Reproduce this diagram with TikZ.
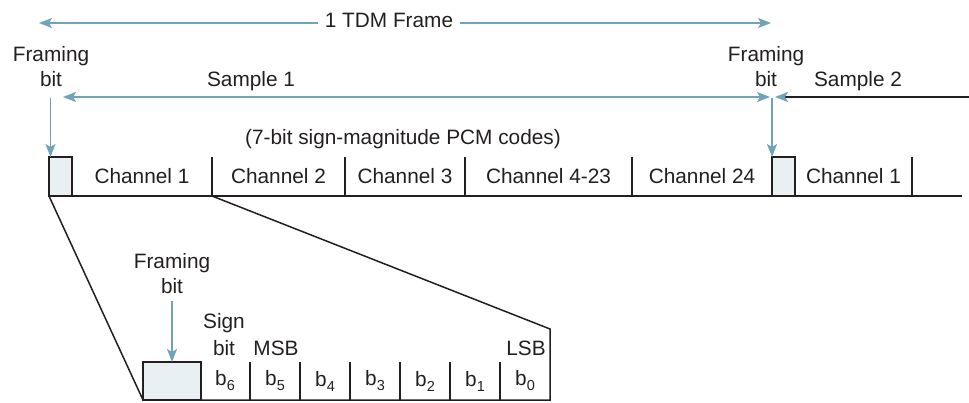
\documentclass[tikz,border=0pt]{standalone}
\usepackage{fontspec}
\setmainfont{Liberation Sans}
\usetikzlibrary{arrows.meta}
\definecolor{arr}{HTML}{6FA3B8}
\definecolor{fbfill}{HTML}{E9F0F4}
\definecolor{ink}{HTML}{231F20}
\newcommand{\bsub}[2]{#1\raisebox{-5pt}{\fontsize{14.5}{15}\selectfont #2}}
\begin{document}
\begin{tikzpicture}[x=1pt,y=-1pt,
  lbl/.style={font=\fontsize{20.8}{25}\selectfont, text=ink, inner sep=0pt},
  bluearrow/.style={draw=arr, line width=1.3pt, -{Stealth[length=13pt,width=10pt,inset=3pt]}},
  blinedraw/.style={draw=ink, line width=1.5pt},
  cell/.style={lbl, minimum height=39pt, outer sep=0pt, inner sep=0pt},
  fbox/.style={draw=ink, line width=1.5pt, fill=fbfill, minimum height=39pt, outer sep=0pt, inner sep=0pt}
]
\useasboundingbox (0,0) rectangle (969,403);

% ---------- top labels ----------
\node[lbl, anchor=base, inner xsep=7pt] (tdm) at (389,28) {1 TDM Frame};
\coordinate (tdmL) at (39,23);
\coordinate (tdmR) at (771,23);
\draw[bluearrow] (tdm.west |- tdmL) -- (tdmL);
\draw[bluearrow] (tdm.east |- tdmR) -- (tdmR);

\node[lbl, anchor=base] (fr1a) at (51,62) {Framing};
\node[lbl, anchor=base] (fr1b) at (51,87) {bit};
\node[lbl, anchor=base] (fr2a) at (766,62) {Framing};
\node[lbl, anchor=base] (fr2b) at (766,87) {bit};
\node[lbl, anchor=base] (s1) at (251,87) {Sample 1};
\node[lbl, anchor=base] (s2) at (858,87) {Sample 2};
\node[lbl, anchor=base] (pcm) at (403,145) {(7-bit sign-magnitude PCM codes)};

\coordinate (s1L) at (63,97);
\coordinate (s1R) at (770,97);
\draw[draw=arr, line width=1.3pt, {Stealth[length=13pt,width=10pt,inset=3pt]}-{Stealth[length=13pt,width=10pt,inset=3pt]}] (s1L) -- (s1R);
\coordinate (s2end) at (969,97);
\coordinate (s2tip) at (775,97);
\draw[draw=ink, line width=1.5pt, -{Stealth[length=13pt,width=10pt,inset=3pt,color=arr]}] (s2end) -- (s2tip);

% ---------- frame row ----------
\node[fbox, minimum width=23pt] (fb1) at (60.5,176.5) {};
\node[cell, minimum width=140pt] (ch1) at (142,176.5) {Channel 1};
\node[cell, minimum width=133pt] (ch2) at (278.5,176.5) {Channel 2};
\node[cell, minimum width=120pt] (ch3) at (405,176.5) {Channel 3};
\node[cell, minimum width=167pt] (ch4) at (548.5,176.5) {Channel 4-23};
\node[cell, minimum width=140pt] (ch24) at (702,176.5) {Channel 24};
\node[fbox, minimum width=23pt] (fb2) at (783.5,176.5) {};
\node[cell, minimum width=117pt] (ch1b) at (853.5,176.5) {Channel 1};
\coordinate (frameEnd) at (962,196);

\draw[blinedraw] (fb1.south east) -- (frameEnd);
\foreach \c in {ch1,ch2,ch3,ch4,ch1b}{
  \draw[blinedraw] (\c.north east) -- (\c.south east);
}

\coordinate (a1) at (50.5,98);
\draw[bluearrow] (a1) -- (a1 |- fb1.north);
\coordinate (a2) at (772,98);
\draw[bluearrow] (a2) -- (a2 |- fb2.north);

% ---------- expanded channel ----------
\node[fbox, minimum width=58pt, minimum height=38pt] (fb3) at (172,381) {};
\node[cell, minimum width=50pt, minimum height=38pt] (b6) at (225,381) {\bsub{b}{6}};
\node[cell, minimum width=50pt, minimum height=38pt] (b5) at (275,381) {\bsub{b}{5}};
\node[cell, minimum width=50pt, minimum height=38pt] (b4) at (325,381) {\bsub{b}{4}};
\node[cell, minimum width=50pt, minimum height=38pt] (b3) at (375,381) {\bsub{b}{3}};
\node[cell, minimum width=50pt, minimum height=38pt] (b2) at (425,381) {\bsub{b}{2}};
\node[cell, minimum width=50pt, minimum height=38pt] (b1) at (475,381) {\bsub{b}{1}};
\node[cell, minimum width=50pt, minimum height=38pt] (b0) at (525,381) {\bsub{b}{0}};
\foreach \c in {b6,b5,b4,b3,b2,b1}{
  \draw[blinedraw] (\c.north east) -- (\c.south east);
}
\coordinate (zr) at (550,329);
\draw[blinedraw] (fb1.south west) -- (fb3.south west) -- (b0.south east) -- (zr) -- (ch1.south east);

\node[lbl, anchor=base] (fr3a) at (172,269) {Framing};
\node[lbl, anchor=base] (fr3b) at (172,294) {bit};
\coordinate (a3) at (172,301);
\draw[bluearrow] (a3) -- (fb3.north);

\node[lbl, anchor=base] (sign) at (224,328) {Sign};
\node[lbl, anchor=base] (signb) at (224,355) {bit};
\node[lbl, anchor=base] (msb) at (276,355) {MSB};
\node[lbl, anchor=base] (lsb) at (526,355) {LSB};
\end{tikzpicture}
\end{document}
